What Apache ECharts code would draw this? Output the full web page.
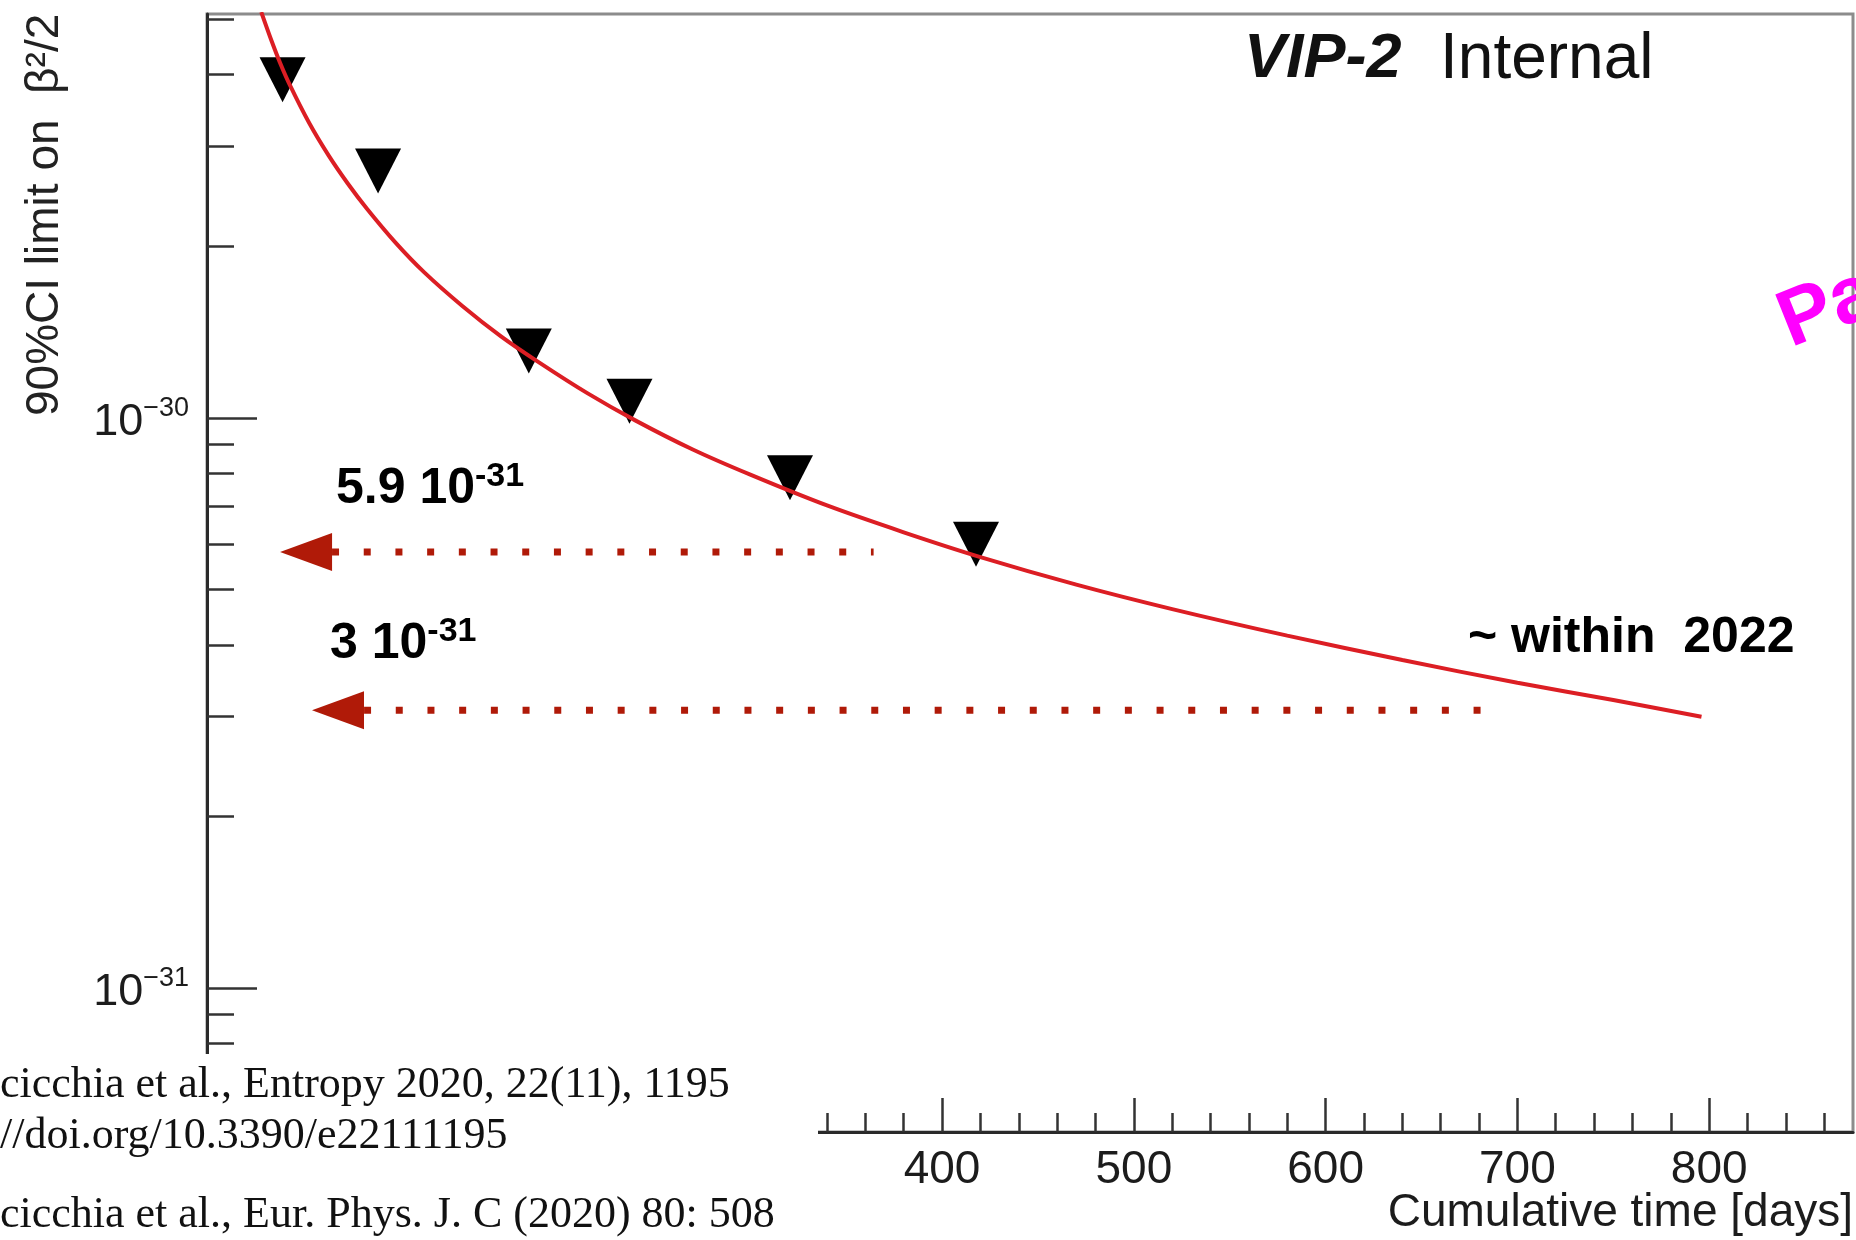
<!DOCTYPE html>
<html>
<head>
<meta charset="utf-8">
<script src="https://cdn.jsdelivr.net/npm/echarts@6/dist/echarts.min.js"></script>
<style>
html,body{margin:0;padding:0;background:#fff;}
#chart{width:1856px;height:1240px;}
</style>
</head>
<body>
<div id="chart"></div>
<script>
// ---- data ----
const days   = [56.1, 105.9, 184.5, 237.0, 320.7, 417.7];
const limits = [3.92e-30, 2.71e-30, 1.31e-30, 1.07e-30, 7.85e-31, 6.0e-31];

const fitDays   = [45, 50, 55, 60, 70, 80, 90, 100, 115, 130, 150, 170, 190, 215, 240, 270, 300, 340,
                   380, 420, 470, 520, 580, 640, 700, 750, 796];
const fitValues = [5.15e-30, 4.62e-30, 4.18e-30, 3.83e-30, 3.29e-30, 2.89e-30, 2.58e-30, 2.33e-30, 2.03e-30,
                   1.80e-30, 1.57e-30, 1.39e-30, 1.25e-30, 1.105e-30, 9.9e-31, 8.8e-31, 7.95e-31, 7.02e-31,
                   6.3e-31, 5.7e-31, 5.1e-31, 4.62e-31, 4.15e-31, 3.76e-31, 3.43e-31, 3.2e-31, 2.99e-31];

const arrowLevels   = [5.82e-31, 3.07e-31];
const arrowTipDays  = [54.8, 71.4];
const arrowBaseDays = [81.9, 98.6];
const arrowEndDays  = [364.3, 681.6];

const xMajorTicks = [400, 500, 600, 700, 800];
const xMinorTicks = [340, 360, 380, 420, 440, 460, 480, 520, 540, 560, 580, 620, 640, 660, 680, 720, 740, 760, 780, 820, 840, 860];
const yMajorTicks = [1e-31, 1e-30];
const yMinorTicks = [6e-32, 7e-32, 8e-32, 9e-32, 2e-31, 3e-31, 4e-31, 5e-31, 6e-31, 7e-31, 8e-31, 9e-31, 2e-30, 3e-30, 4e-30, 5e-30];

const xMin = 16.7, xMax = 875, yMin = 5.59e-32, yMax = 5.11e-30;

// ---- chart ----
const chart = echarts.init(document.getElementById('chart'), null, {renderer: 'canvas'});
const FONT = 'Liberation Sans, Arial, Helvetica, sans-serif';
const SERIF = '44px Liberation Serif, Times New Roman, serif';
const axisColor = '#2a2a2a';
const lg = v => Math.log10(v);

const series = [
  {
    type: 'scatter', name: 'limits', z: 2,
    data: days.map((d, i) => [d, limits[i]]),
    symbol: 'path://M0,0L10,0L5,10Z', symbolSize: [46, 45],
    itemStyle: {color: '#000', opacity: 1}
  },
  {
    type: 'line', name: 'fit', z: 3, smooth: 0.3,
    data: fitDays.map((d, i) => [d, fitValues[i]]),
    showSymbol: false, symbol: 'none',
    lineStyle: {color: '#dc1e24', width: 4}
  }
];
arrowLevels.forEach((lv, i) => {
  series.push({
    type: 'line', z: 4, symbol: 'none',
    data: [[arrowBaseDays[i], lv], [arrowEndDays[i], lv]],
    lineStyle: {color: '#b01a08', width: 7, type: [7, 24.7], cap: 'butt'}
  });
  series.push({
    type: 'scatter', z: 4,
    data: [[(arrowTipDays[i] + arrowBaseDays[i]) / 2, lv]],
    symbol: 'path://M0,5L10,0L10,10Z', symbolSize: [52, 38],
    itemStyle: {color: '#b01a08', opacity: 1}
  });
});

const richSup = {
  m: {fontSize: 45, lineHeight: 45, padding: [10, 0, 0, 0], fontFamily: FONT, color: '#1c1c1c'},
  s: {fontSize: 27, lineHeight: 34, fontFamily: FONT, color: '#1c1c1c', verticalAlign: 'top'}
};
const richAnno = {
  m: {fontSize: 50, fontWeight: 'bold', fontFamily: FONT, lineHeight: 50, padding: [8, 0, 0, 0], color: '#000'},
  s: {fontSize: 34, fontWeight: 'bold', fontFamily: FONT, lineHeight: 36, verticalAlign: 'top', color: '#000'}
};

const option = {
  animation: false,
  backgroundColor: '#fff',
  grid: {left: 207, right: 3, top: 14, bottom: 108, show: true, borderColor: '#8c8c8c', borderWidth: 3,
         containLabel: false, outerBoundsMode: 'none'},
  xAxis: [
    {
      type: 'value', min: xMin, max: xMax, position: 'bottom',
      axisLine: {show: true, onZero: false, lineStyle: {color: axisColor, width: 3}},
      axisTick: {show: true, inside: true, length: 34, customValues: xMajorTicks, lineStyle: {color: '#333', width: 2.5}},
      axisLabel: {customValues: xMajorTicks, margin: 15, fontSize: 46, color: '#1c1c1c', fontFamily: FONT},
      splitLine: {show: false}
    },
    {
      type: 'value', min: xMin, max: xMax, position: 'bottom',
      axisLine: {show: false},
      axisTick: {show: true, inside: true, length: 19, customValues: xMinorTicks, lineStyle: {color: '#333', width: 2.5}},
      axisLabel: {show: false}, splitLine: {show: false}
    }
  ],
  yAxis: [
    {
      // data axis (log scale) used by the series
      type: 'log', logBase: 10, min: yMin, max: yMax, position: 'left',
      axisLine: {show: true, onZero: false, lineStyle: {color: axisColor, width: 3}},
      axisTick: {show: false}, axisLabel: {show: false}, splitLine: {show: false}
    },
    {
      // decade ticks and labels, same range in log10 units
      type: 'value', min: lg(yMin), max: lg(yMax), position: 'left',
      axisLine: {show: false},
      axisTick: {show: true, inside: true, length: 50, customValues: yMajorTicks.map(lg), lineStyle: {color: '#333', width: 2.5}},
      axisLabel: {
        customValues: yMajorTicks.map(lg), margin: 18,
        formatter: function (v) { return '{m|10}{s|\u2212' + Math.abs(Math.round(v)) + '}'; },
        rich: richSup
      },
      splitLine: {show: false}
    },
    {
      type: 'value', min: lg(yMin), max: lg(yMax), position: 'left',
      axisLine: {show: false},
      axisTick: {show: true, inside: true, length: 27, customValues: yMinorTicks.map(lg), lineStyle: {color: '#333', width: 2.5}},
      axisLabel: {show: false}, splitLine: {show: false}
    }
  ],
  series: series,
  graphic: [
    // y axis title
    {type: 'text', x: 45, y: 416, rotation: Math.PI / 2, z: 50,
     style: {text: '90%CI limit on  \u03B2\u00B2/2', x: 0, y: 0, align: 'left', verticalAlign: 'middle',
             font: '46px ' + FONT, fill: '#222'}},
    // x axis title
    {type: 'text', z: 50, style: {text: 'Cumulative time [days]', x: 1853, y: 1213, align: 'right', verticalAlign: 'middle',
             font: '46px ' + FONT, fill: '#1c1c1c'}},
    // VIP-2 Internal
    {type: 'text', z: 50, style: {text: 'VIP-2', x: 1244, y: 60, align: 'left', verticalAlign: 'middle',
             font: 'italic bold 63px ' + FONT, fill: '#111'}},
    {type: 'text', z: 50, style: {text: 'Internal', x: 1440, y: 60, align: 'left', verticalAlign: 'middle',
             font: '64px ' + FONT, fill: '#111'}},
    // annotations
    {type: 'text', z: 50, style: {text: '{m|5.9 10}{s|-31}', x: 336, y: 460, align: 'left', verticalAlign: 'top', rich: richAnno}},
    {type: 'text', z: 50, style: {text: '{m|3 10}{s|-31}', x: 330, y: 615, align: 'left', verticalAlign: 'top', rich: richAnno}},
    {type: 'text', z: 50, style: {text: '~ within  2022', x: 1468, y: 638, align: 'left', verticalAlign: 'middle',
             font: 'bold 50px ' + FONT, fill: '#000'}},
    // magenta partial word
    {type: 'text', x: 1793, y: 353, rotation: 0.38, z: 50,
     style: {text: 'Pa', x: 0, y: 12, align: 'left', verticalAlign: 'bottom', font: 'bold 80px ' + FONT, fill: '#ff00ff'}},
    // citation box overlay
    {type: 'rect', z: 60, shape: {x: 0, y: 1054, width: 818, height: 186}, style: {fill: '#fff'}},
    {type: 'text', z: 61, style: {text: 'cicchia et al., Entropy 2020, 22(11), 1195', x: 0, y: 1085, align: 'left', verticalAlign: 'middle', font: SERIF, fill: '#111'}},
    {type: 'text', z: 61, style: {text: '//doi.org/10.3390/e22111195', x: 0, y: 1136, align: 'left', verticalAlign: 'middle', font: SERIF, fill: '#111'}},
    {type: 'text', z: 61, style: {text: 'cicchia et al., Eur. Phys. J. C (2020) 80: 508', x: 0, y: 1215, align: 'left', verticalAlign: 'middle', font: SERIF, fill: '#111'}}
  ]
};
chart.setOption(option);
</script>
</body>
</html>
